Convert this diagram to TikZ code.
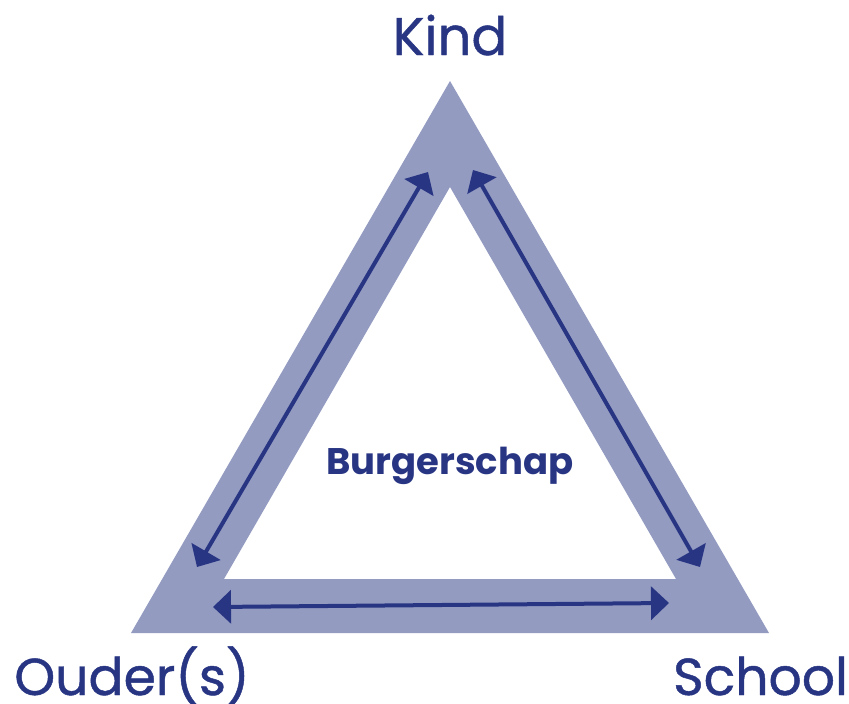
\documentclass[tikz,border=0pt]{standalone}
\usepackage{fontspec}
\setmainfont{Poppins}
\newfontfamily\labelfont[FakeBold=0.9]{Poppins}
\usetikzlibrary{arrows.meta}
\definecolor{navy}{HTML}{283583}
\definecolor{band}{HTML}{939BC1}
\tikzset{
  link/.style={draw=navy,line width=4pt,{Triangle[length=18pt,width=33pt]}-{Triangle[length=18pt,width=33pt]}},
  corner/.style={text=navy,font=\labelfont\fontsize{52}{52}\selectfont,inner sep=0pt,anchor=base},
  top/.style={text=navy,font=\labelfont\fontsize{53}{53}\selectfont,inner sep=0pt,anchor=base},
  centre/.style={text=navy,font=\bfseries\fontsize{37}{37}\selectfont,inner sep=0pt,anchor=base}
}
\begin{document}
\begin{tikzpicture}[x=1pt,y=-1pt]
\useasboundingbox (0,0) rectangle (849,704);
\fill[band,even odd rule] (450,81) -- (769,633) -- (131,633) -- cycle
  (450,187) -- (676,579) -- (224,579) -- cycle;
\node[top] (kind) at (450,55) {Kind};
\node[corner] (ouder) at (132,695) {Ouder(s)};
\node[corner] (school) at (760.5,695) {School};
\node[centre] (burger) at (450,474) {Burgerschap};
\coordinate (lt) at (428,172);
\coordinate (lb) at (197,567);
\coordinate (rt) at (473,170);
\coordinate (rb) at (700,567);
\coordinate (bl) at (213,607);
\coordinate (br) at (669,603);
\draw[link] (lt) -- (lb);
\draw[link] (rt) -- (rb);
\draw[link] (bl) -- (br);
\end{tikzpicture}
\end{document}
